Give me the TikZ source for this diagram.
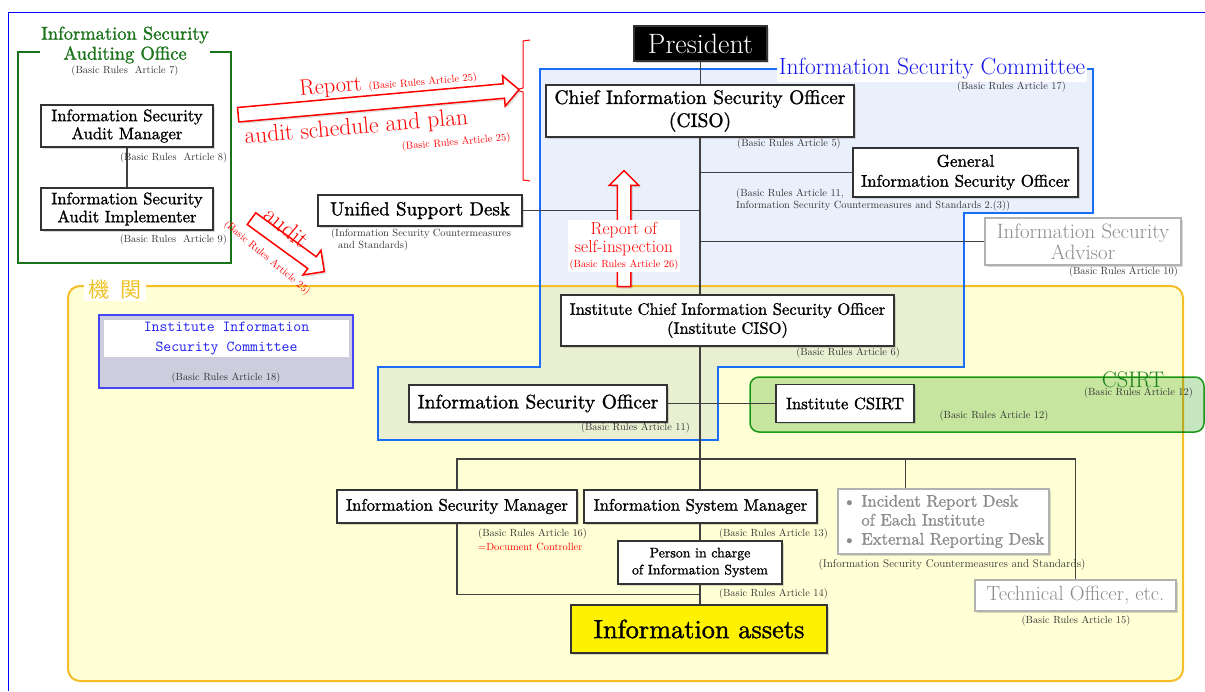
\documentclass[tikz,border=0pt]{standalone}
\usepackage{fontspec}
\usetikzlibrary{positioning}
\usetikzlibrary{shapes.arrows}
\usetikzlibrary{shadows}
\usetikzlibrary{calc}
\newfontfamily\cjk{Noto Sans CJK JP}
\newfontfamily\heavy{lmroman10-regular.otf}[FakeBold=1.2]
\newcommand{\pxfont}[2]{\fontsize{#1}{#2}\selectfont}
\definecolor{combd}{RGB}{25,110,245}
\definecolor{comfill}{RGB}{233,240,252}
\definecolor{comtext}{RGB}{20,20,235}
\definecolor{instbg}{RGB}{255,255,213}
\definecolor{instbd}{RGB}{245,190,40}
\definecolor{insttext}{RGB}{240,195,40}
\definecolor{csirtbg}{RGB}{198,230,192}
\definecolor{csirtbd}{RGB}{30,160,30}
\definecolor{csirttext}{RGB}{30,130,30}
\definecolor{auditgreen}{RGB}{25,115,25}
\definecolor{iisbd}{RGB}{70,70,245}
\definecolor{iisbg}{RGB}{205,205,222}
\definecolor{iistext}{RGB}{30,30,240}
\tikzstyle{every node}=[font=\pxfont{10}{12}]
\tikzstyle{post}=[draw=black!80,fill=white,line width=1.2pt,inner sep=0pt,align=center,drop shadow={shadow xshift=1.5pt,shadow yshift=-1.5pt,opacity=0.3}]
\tikzstyle{dimpost}=[post,draw=black!30,text=black!45]
\tikzstyle{rule}=[inner sep=0pt,text=black!80,font=\pxfont{10.4}{12}]
\tikzstyle{wire}=[line width=1.2pt,black!75]
\tikzstyle{bigarrow}=[single arrow,draw=red,fill=white,line width=1.5pt,inner xsep=0pt,inner ysep=6.5pt,single arrow head extend=8pt,drop shadow={shadow xshift=2pt,shadow yshift=-2pt,opacity=0.25}]

\begin{document}
\begin{tikzpicture}[x=1pt,y=-1pt]
\useasboundingbox (0,0) rectangle (1205,691);
\draw[blue,line width=1pt] (8,691)--(8,12)--(1205,12);

\fill[instbg,rounded corners=12pt] (68,286) rectangle (1183,681);
\begin{scope}[blend mode=multiply]
\fill[comfill] (540,69)--(1093,69)--(1093,213)--(964,213)--(964,367)--(718,367)--(718,440)--(378,440)--(378,367)--(540,367)--cycle;
\end{scope}
\draw[instbd,line width=2pt,rounded corners=12pt] (68,286) rectangle (1183,681);
\draw[combd,line width=2pt] (540,69)--(1093,69)--(1093,213)--(964,213)--(964,367)--(718,367)--(718,440)--(378,440)--(378,367)--(540,367)--cycle;
\begin{scope}[blend mode=multiply]
\draw[csirtbd,fill=csirtbg,line width=1.5pt,rounded corners=9pt] (750,377) rectangle (1204,432);
\end{scope}
\draw[auditgreen,line width=2pt] (18,52) rectangle (231,263);
\draw[red,line width=1pt] (530,40)--(523,41)--(523,88)--(516,90)--(523,92)--(523,180)--(530,181);

\node[fill=white,text=auditgreen,align=center,inner sep=1pt,font=\heavy\pxfont{18.5}{20}] (audtitle) at (125,45) {Information Security\\Auditing Office};
\node[fill=white,text=comtext,inner sep=2pt,font=\pxfont{23.5}{24}] (comtitle) at (932,69) {Information Security Committee};
\node[fill=white,text=insttext,inner xsep=4pt,inner ysep=1pt,font=\cjk\pxfont{21}{24}] (insttitle) at (115,290) {機\hspace{12pt}関};
\node[text=csirttext,inner sep=0pt,font=\pxfont{22.5}{22}] (csirttitle) at (1133,380) {CSIRT};

\coordinate (bus) at (700,459);
\node[post,fill=black,text=white,minimum width=133pt,minimum height=35pt,font=\pxfont{28}{28}] (pres) at (700.5,43.5) {President};
\node[post,minimum width=308pt,minimum height=52pt,font=\heavy\pxfont{19.5}{23}] (ciso) at (700,111) {Chief Information Security Officer\\(CISO)};
\node[post,minimum width=225pt,minimum height=49pt,font=\heavy\pxfont{17}{20}] (gen) at (965.5,172.5) {General\\Information Security Officer};
\node[post,minimum width=204pt,minimum height=31pt,font=\heavy\pxfont{19}{22}] (usd) at (420,210.5) {Unified Support Desk};
\node[dimpost,minimum width=196pt,minimum height=47pt,font=\pxfont{20.8}{21}] (adv) at (1083,241.5) {Information Security\\Advisor};
\node[post,minimum width=172pt,minimum height=42pt,font=\heavy\pxfont{16.7}{18}] (amgr) at (127,126) {Information Security\\Audit Manager};
\node[post,minimum width=172pt,minimum height=42pt,font=\heavy\pxfont{16.7}{18}] (aimp) at (127,209) {Information Security\\Audit Implementer};
\node[post,minimum width=333pt,minimum height=51pt,font=\heavy\pxfont{16.6}{19}] (iciso) at (727.5,320.5) {Institute Chief Information Security Officer\\(Institute CISO)};
\node[post,minimum width=258pt,minimum height=37pt,font=\heavy\pxfont{19.6}{21}] (iso) at (538,403.5) {Information Security Officer};
\node[post,minimum width=138pt,minimum height=38pt,font=\heavy\pxfont{16.6}{19}] (icsirt) at (845,403.5) {Institute CSIRT};
\node[post,minimum width=240pt,minimum height=33pt,font=\heavy\pxfont{16.8}{19}] (ismgr) at (457,506.5) {Information Security Manager};
\node[post,minimum width=233pt,minimum height=33pt,font=\heavy\pxfont{16.7}{19}] (sysmgr) at (700.5,506.5) {Information System Manager};
\node[post,minimum width=164pt,minimum height=43pt,font=\heavy\pxfont{13.9}{17}] (pic) at (700,562.5) {Person in charge\\of Information System};
\node[post,fill=yellow,minimum width=256pt,minimum height=48pt,font=\heavy\pxfont{26.3}{28}] (assets) at (699,629) {Information assets};
\node[dimpost,minimum width=211pt,minimum height=65pt,align=left,font=\heavy\pxfont{16.7}{19}] (desk) at (943.5,521.5) {\textbullet\ Incident Report Desk\\\hphantom{\textbullet\ }of Each Institute\\\textbullet\ External Reporting Desk};
\node[dimpost,minimum width=201pt,minimum height=31pt,font=\pxfont{20.5}{21}] (tech) at (1075.5,595.5) {Technical Officer, etc.};
\node[draw=iisbd,fill=iisbg,line width=1.5pt,minimum width=254pt,minimum height=73pt] (iiscom) at (226,351.5) {};
\node[fill=white,minimum width=245pt,minimum height=37pt,inner sep=0pt,text=iistext,align=center,font=\ttfamily\pxfont{15.3}{20}] (iisname) at (226.5,338.5) {Institute Information\\Security Committee};

\coordinate (join) at ($(pic.south)!0.5!(assets.north)$);
\draw[wire] (pres) -- (pres |- ciso.north);
\draw[wire] (ciso.south) -- (ciso.south |- iciso.north);
\draw[wire] (iciso.south -| bus) -- (bus);
\draw[wire] (gen.west) -- (gen.west -| ciso.south);
\draw[wire] (usd.east) -- (usd.east -| ciso.south);
\draw[wire] (adv.west) -- (adv.west -| ciso.south);
\draw[wire] (iso.east) -- (icsirt.west);
\draw[wire] (ismgr.north) |- (bus) -| (tech.north);
\draw[wire] (bus) -- (bus |- sysmgr.north);
\draw[wire] ([xshift=-38pt]desk.north) -- ([xshift=-38pt]desk.north |- bus);
\draw[wire] (sysmgr.south -| bus) -- (pic.north -| bus);
\draw[wire] (pic.south -| bus) -- (assets.north -| bus);
\draw[wire] (ismgr.south) |- (join);
\draw[wire] (amgr) -- (aimp);

\node[bigarrow,rotate=5.1,minimum height=282pt,minimum width=29pt] (reparr) at (375,102.5) {};
\node[bigarrow,rotate=-36,minimum height=90pt,minimum width=30pt] (auditarr) at (285,243) {};
\node[bigarrow,rotate=90,minimum height=116pt,minimum width=28pt,inner ysep=6pt] (selfarr) at (624,232) {};

\node[text=red,anchor=base west,rotate=5,inner sep=0pt,font=\pxfont{22.3}{22}] (reptxt) at (300,96) {Report {\pxfont{10.4}{12}(Basic Rules Article 25)}};
\node[text=red,anchor=base west,rotate=5,inner sep=0pt,font=\pxfont{23.5}{23}] (plantxt) at (245,144) {audit schedule and plan};
\node[text=red,anchor=base west,rotate=5,inner sep=0pt,font=\pxfont{10.4}{12}] (planart) at (402,150) {(Basic Rules Article 25)};
\node[text=red,rotate=-40,inner sep=0pt,font=\pxfont{24}{25}] (audittxt) at (287,227) {audit};
\node[text=red,rotate=-40,inner sep=0pt,font=\pxfont{10.4}{12}] (auditart) at (267,258) {(Basic Rules Article 25)};
\node[fill=white,text=red,align=center,inner sep=2pt,font=\pxfont{17.4}{18}] (selfrep) at (624,246) {Report of\\self-inspection\\[-3pt]{\pxfont{10.4}{12}(Basic Rules Article 26)}};

\node[rule] (art7) at (125,71) {(Basic Rules\ \ Article 7)};
\node[rule,anchor=west] (art8) at (120,158) {(Basic Rules\ \ Article 8)};
\node[rule,anchor=east] (art9) at (227,240) {(Basic Rules\ \ Article 9)};
\node[rule,anchor=west] (art5) at (737,144) {(Basic Rules Article 5)};
\node[rule,anchor=west,align=left] (art11a) at (736,200) {(Basic Rules Article 11,\\Information Security Countermeasures and Standards 2.(3))};
\node[rule,anchor=west,align=left] (stdusd) at (331,240) {(Information Security Countermeasures\\\ \ and Standards)};
\node[rule,anchor=east] (art10) at (1178,272) {(Basic Rules Article 10)};
\node[rule,anchor=east] (art17) at (1066,87) {(Basic Rules Article 17)};
\node[rule,anchor=east] (art6) at (900,353) {(Basic Rules Article 6)};
\node[rule,anchor=east] (art11b) at (690,428) {(Basic Rules Article 11)};
\node[rule] (art12a) at (994,416) {(Basic Rules Article 12)};
\node[rule,anchor=east] (art12b) at (1193,393) {(Basic Rules Article 12)};
\node[rule] (art18) at (226,378) {(Basic Rules Article 18)};
\node[rule,anchor=west] (art16) at (478,534) {(Basic Rules Article 16)};
\node[rule,anchor=west,text=red] (doc) at (478,547) {=Document Controller};
\node[rule,anchor=east] (art13) at (828,534) {(Basic Rules Article 13)};
\node[rule,anchor=east] (art14) at (828,594) {(Basic Rules Article 14)};
\node[rule,font=\pxfont{11.2}{12}] (stddesk) at (952,565) {(Information Security Countermeasures and Standards)};
\node[rule] (art15) at (1076,621) {(Basic Rules Article 15)};
\end{tikzpicture}
\end{document}
